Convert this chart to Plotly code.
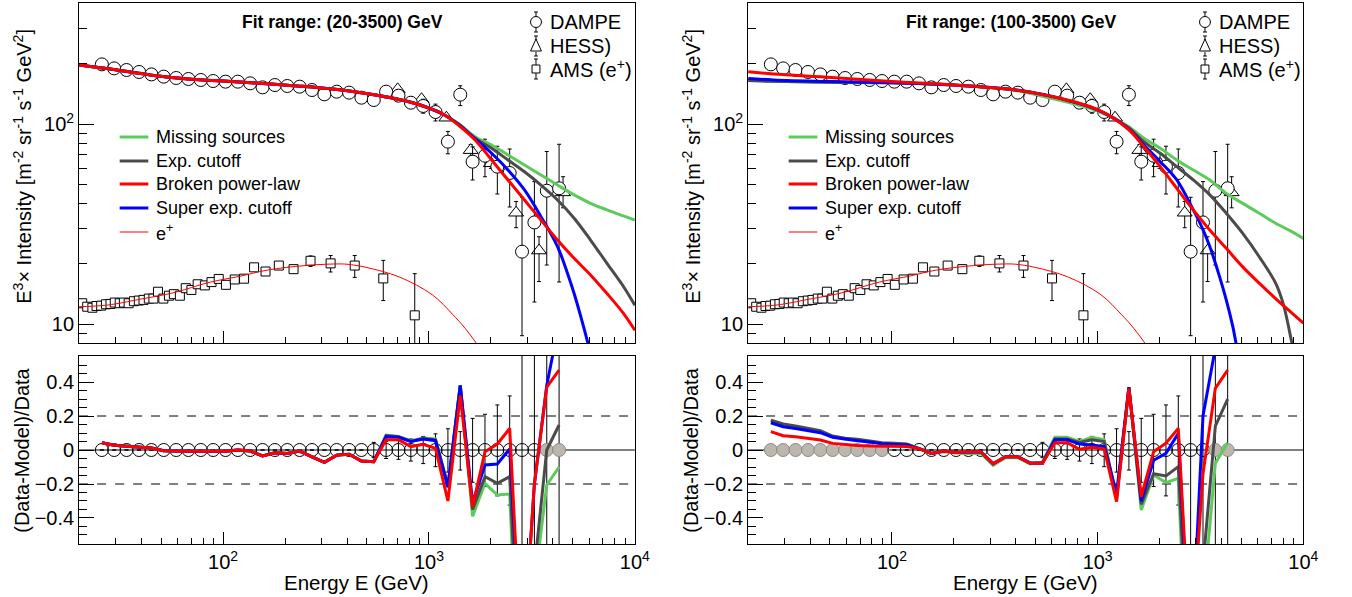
import plotly.graph_objects as go

W, H = 1352, 597

# ---------------- data ----------------
dampe_E = [25.8, 29.6, 34.0, 39.1, 44.9, 51.5, 59.2, 67.9, 78.0, 89.5, 102.8, 118.0, 135.5,
           155.6, 178.6, 205.1, 235.5, 270.4, 310.5, 356.5, 409.3, 469.9, 539.5, 619.4, 711.2,
           816.6, 937.6, 1076, 1236, 1419, 1629, 1871, 2148, 2466, 2831, 3251, 3733, 4285]
dampe_flux = [198.7, 189.7, 186.2, 182.0, 177.0, 172.5, 169.8, 167.9, 166.0, 164.0, 162.8, 162.8,
              159.7, 152.5, 156.6, 154.9, 153.7, 147.9, 140.7, 145.1, 143.5, 135.4, 131.8, 145.1,
              138.6, 127.8, 123.1, 114.8, 81.6, 140.2, 64.8, 69.4, 61.2, 56.9, 23.0, 32.2, 46.4, 47.7]
dampe_rel_up = [0.01] * 17 + [0.015, 0.02, 0.025, 0.03, 0.035, 0.045, 0.05, 0.055, 0.065, 0.08,
                              0.095, 0.125, 0.108, 0.186, 0.21, 0.265, 0.318, 0.87, 0.6, 0.57, 0.66]
dampe_rel_dn = [0.01] * 17 + [0.015, 0.02, 0.025, 0.03, 0.035, 0.045, 0.05, 0.055, 0.065, 0.08,
                              0.098, 0.13, 0.118, 0.19, 0.215, 0.27, 0.324, 0.62, 0.6, 0.575, 0.66]

hess_E = [705, 920, 1215, 1595, 2000, 2650, 3425, 4480]
hess_flux = [149, 133, 107.5, 74, 63.6, 36, 23.3, 45.5]
hess_err_up = [3, 3, 3, 4.9, 3.7, 5.0, 4.0, 9.0]
hess_err_dn = [3, 3, 3, 4.9, 3.6, 5.7, 7.0, 7.4]

ams_E = [20.7, 21.9, 23.2, 24.3, 25.6, 27.0, 28.4, 29.8, 31.5, 33.0, 34.8, 36.9, 39.0, 41.1, 43.6,
         45.9, 48.3, 51.3, 54.6, 57.7, 61.7, 65.9, 70.2, 75.3, 81.6, 87.9, 95.3, 103.3, 114, 126.5,
         141.5, 160.8, 186.6, 220, 266, 333, 436, 600, 853]
ams_flux = [12.7, 12.2, 12.06, 12.3, 12.35, 12.55, 12.6, 12.8, 12.7, 12.8, 12.7, 13.0, 13.1, 13.2,
            13.4, 13.4, 14.5, 13.4, 13.85, 14.1, 13.85, 15.1, 14.8, 15.8, 15.6, 16.2, 16.8, 15.7,
            16.7, 16.85, 19.2, 18.3, 19.6, 18.8, 20.7, 20.1, 19.6, 16.9, 11.05]
ams_err_up = [0.2] * 20 + [0.3] * 7 + [0.4] * 3 + [0.5, 0.6, 0.6, 0.9, 1.2, 1.9, 2.4, 3.9, 6.8]
ams_err_dn = [0.2] * 20 + [0.3] * 7 + [0.4] * 3 + [0.5, 0.6, 0.6, 0.8, 1.3, 1.9, 2.5, 3.8, 6.0]

# model curves, left panel (fit 20-3500 GeV)
L_curve_E = [20, 30, 45, 70, 100, 150, 230, 350, 550, 800, 960, 1160, 1390, 1675, 2015, 2420,
             2910, 3500, 4210, 5070, 6090, 7320, 8800, 10000]
L_missing = [197, 186.5, 175.5, 167.5, 164, 160, 155, 149, 139.6, 129.3, 122, 112.5, 100.5, 86.4,
             78.5, 70.0, 62.4, 55.6, 49.5, 44.2, 40.1, 37.2, 34.7, 33.1]
L_expcut = [197, 186.5, 175.5, 167.5, 164, 160, 155, 149, 139.6, 129.3, 122, 112.5, 100, 84.8,
            75.6, 66.1, 57.7, 49.5, 41.7, 33.8, 26.3, 20.1, 15.4, 12.4]
L_broken = [197, 186.5, 175.5, 167.5, 164, 160, 155, 149, 139.6, 129.3, 122, 112.5, 98.9, 83.2,
            66.1, 52.5, 41.7, 33.1, 26.3, 21.3, 17.6, 14.2, 11.3, 9.3]
L_super_E = [20, 30, 45, 70, 100, 150, 230, 350, 550, 800, 960, 1160, 1390, 1675, 2015, 2420,
             2910, 3500, 4210, 4710, 5070, 5460, 5880, 6300]
L_super = [197, 186.5, 175.5, 167.5, 164, 160, 155, 149, 139.6, 129.3, 122, 112.5, 99.5, 84.5,
           71.4, 58.9, 46.8, 34.4, 24.4, 17.9, 14.2, 10.9, 8.2, 6.0]

# model curves, right panel (fit 100-3500 GeV)
R_curve_E = [20, 26.6, 50.7, 100, 200, 400, 600, 1000, 1393, 1678, 2015, 2425, 2917, 3508, 4218,
             5073, 6100, 7330, 8830, 10000]
R_missing = [165, 163.4, 161.6, 161, 156.5, 147, 134, 116, 98, 84.8, 75.6, 66.1, 58.9, 52.5, 45,
             40.1, 35.8, 31.9, 28.9, 26.8]
R_broken = [182.7, 178, 171, 163, 156.7, 148, 137.5, 118, 95.2, 77, 61.2, 47.7, 37.2, 29.5, 23.9,
            19.3, 16.0, 13.4, 11.3, 10.1]
R_exp_E = [20, 26.6, 50.7, 100, 200, 400, 600, 1000, 1393, 1678, 2015, 2425, 2917, 3508, 4218,
           5073, 6100, 7330, 8000, 8800, 9300]
R_expcut = [165, 163.4, 161.6, 161, 156.7, 148, 137, 117.5, 97, 81.5, 71.4, 61.2, 52.5, 44.2,
            35.8, 28.4, 21.7, 16, 12.5, 8.0, 6.0]
R_super_E = [20, 26.6, 50.7, 100, 200, 400, 600, 1000, 1393, 1678, 2015, 2425, 2917, 3258, 3508,
             3917, 4218, 4540, 4710, 5000]
R_super = [169, 166, 163, 161, 156.7, 148, 137.5, 117.5, 95.5, 78.5, 64.8, 52.5, 37.2, 29.5, 24.4,
           17.2, 13.2, 9.7, 8.0, 6.0]

# positron model
ep_E = [20, 25.6, 30, 39.5, 50, 60, 82.8, 100, 120, 164, 250, 343, 400, 495, 716, 1038, 1300,
        1500, 1700, 1850]
ep_val = [12.2, 12.35, 12.6, 13.3, 13.9, 14.5, 16.0, 16.7, 17.3, 18.6, 19.6, 19.95, 19.9, 19.2,
          17.2, 14.0, 11.2, 9.5, 8.0, 7.0]

# residuals (Data-Model)/Data at DAMPE energies
common_res = [0.043, 0.028, 0.022, 0.018, 0.012, -0.004, -0.008, -0.008, -0.008, -0.008, -0.008,
              0.0, -0.006, -0.035, -0.016, -0.02, -0.006, -0.04, -0.073, -0.03, -0.025, -0.065,
              -0.069]
L_res_broken = common_res + [0.06, 0.06, 0.02, 0.033, 0.01, -0.30, 0.32, -0.333, -0.01, 0.035,
                             0.127, -1.3, -0.2, 0.37, 0.47]
L_res_super = common_res + [0.078, 0.075, 0.05, 0.065, 0.055, -0.22, 0.38, -0.31, -0.088, -0.082,
                            0.006, -1.3, -0.2, 0.38, 0.75]
L_res_expcut = common_res + [0.085, 0.078, 0.05, 0.067, 0.06, -0.21, 0.38, -0.35, -0.157, -0.196,
                             -0.157, -1.6, -0.7, 0.0, 0.147]
L_res_missing = common_res + [0.088, 0.08, 0.055, 0.07, 0.065, -0.21, 0.38, -0.39, -0.196, -0.265,
                              -0.259, -1.9, -0.8, -0.206, -0.1]

R_res_expcut = [0.176, 0.153, 0.141, 0.127, 0.114, 0.082, 0.069, 0.063, 0.053, 0.043, 0.039, 0.035,
                0.01, -0.02, -0.006, -0.014, -0.012, -0.012, -0.082, -0.04, -0.04, -0.078, -0.078,
                0.065, 0.065, 0.045, 0.06, 0.05, -0.28, 0.37, -0.32, -0.14, -0.153, -0.098, -1.5,
                -0.7, 0.14, 0.30]
R_res_missing = [0.171, 0.148, 0.136, 0.122, 0.109, 0.078, 0.065, 0.059, 0.05, 0.04, 0.036, 0.032,
                 0.008, -0.022, -0.01, -0.018, -0.02, -0.02, -0.09, -0.045, -0.045, -0.082, -0.07,
                 0.075, 0.075, 0.05, 0.075, 0.06, -0.29, 0.37, -0.353, -0.147, -0.192, -0.167,
                 -1.8, -0.9, -0.078, 0.043]
R_res_super = [0.16, 0.137, 0.127, 0.114, 0.102, 0.075, 0.063, 0.055, 0.047, 0.037, 0.033, 0.03,
               0.008, -0.02, -0.006, -0.014, -0.012, -0.01, -0.08, -0.04, -0.04, -0.076, -0.076,
               0.06, 0.06, 0.035, 0.03, 0.02, -0.255, 0.37, -0.3, -0.06, -0.02, 0.098, -1.3, 0.2,
               0.6, 1.0]
R_res_broken = [0.108, 0.084, 0.078, 0.069, 0.059, 0.039, 0.031, 0.027, 0.024, 0.022, 0.02, 0.02,
                0.008, -0.02, -0.006, -0.014, -0.01, -0.01, -0.08, -0.04, -0.04, -0.078, -0.078,
                0.043, 0.043, 0.004, 0.016, 0.006, -0.304, 0.363, -0.275, -0.01, 0.04, 0.127,
                -1.2, -0.14, 0.363, 0.47]

fit_ranges = [(20, 3500), (100, 3500)]
fit_labels = ["Fit range: (20-3500) GeV", "Fit range: (100-3500) GeV"]
x_ticks = [100, 1000, 10000]
x_ticktext = ["10<sup>2</sup>", "10<sup>3</sup>", "10<sup>4</sup>"]
y_ticks = [10, 100]
y_ticktext = ["10", "10<sup>2</sup>"]

# ---------------- style ----------------
FONT = "Liberation Sans, Arial, Helvetica, sans-serif"
GREEN = "#5ccb5c"
GRAY = "#4b4b4b"
RED = "#ff0000"
BLUE = "#0000ff"
FILLGRAY = "#bdb6ac"
MIN_VISIBLE_REL = 0.035   # error bars hidden inside the residual markers


def px(x):
    return x / W


def py(y):
    return 1 - y / H


TOP_DOM = [py(343), py(3)]
BOT_DOM = [py(544), py(356)]
PANEL_LEFT = [80, 756.5]
PANEL_RIGHT = [642, 1318]

fig = go.Figure()

minor_x = [v * m for m in (10, 100, 1000) for v in range(2, 10)]
minor_y = [9] + [v * 10 for v in range(2, 10)] + [200, 300]

panels = [
    dict(xt="x", yt="y", xb="x2", yb="y2",
         curves=[(L_curve_E, L_missing, GREEN), (L_curve_E, L_expcut, GRAY),
                 (L_super_E, L_super, BLUE), (L_curve_E, L_broken, RED)],
         res=[(L_res_missing, GREEN), (L_res_expcut, GRAY), (L_res_super, BLUE),
              (L_res_broken, RED)]),
    dict(xt="x3", yt="y3", xb="x4", yb="y4",
         curves=[(R_curve_E, R_missing, GREEN), (R_exp_E, R_expcut, GRAY),
                 (R_super_E, R_super, BLUE), (R_curve_E, R_broken, RED)],
         res=[(R_res_missing, GREEN), (R_res_expcut, GRAY), (R_res_super, BLUE),
              (R_res_broken, RED)]),
]

for k, p in enumerate(panels):
    # ---- data (white-filled markers hide the error bar inside the marker)
    fig.add_trace(go.Scatter(
        x=ams_E, y=ams_flux, mode="markers", xaxis=p["xt"], yaxis=p["yt"], showlegend=False,
        marker=dict(symbol="square", size=9, color="white", line=dict(width=1, color="black")),
        error_y=dict(type="data", symmetric=False, array=ams_err_up, arrayminus=ams_err_dn,
                     color="black", thickness=1, width=2)))
    fig.add_trace(go.Scatter(
        x=hess_E, y=hess_flux, mode="markers", xaxis=p["xt"], yaxis=p["yt"], showlegend=False,
        marker=dict(symbol="triangle-up", size=13, color="white", line=dict(width=1, color="black")),
        error_y=dict(type="data", symmetric=False, array=hess_err_up, arrayminus=hess_err_dn,
                     color="black", thickness=1, width=2)))
    fig.add_trace(go.Scatter(
        x=dampe_E, y=dampe_flux, mode="markers", xaxis=p["xt"], yaxis=p["yt"], showlegend=False,
        marker=dict(symbol="circle", size=13, color="white", line=dict(width=1, color="black")),
        error_y=dict(type="data", symmetric=False,
                     array=[f * r for f, r in zip(dampe_flux, dampe_rel_up)],
                     arrayminus=[f * r for f, r in zip(dampe_flux, dampe_rel_dn)],
                     color="black", thickness=1, width=2)))
    # ---- top panel curves
    for xs, ys, col in p["curves"]:
        fig.add_trace(go.Scatter(x=xs, y=ys, mode="lines", line=dict(color=col, width=3, shape="spline"),
                                 xaxis=p["xt"], yaxis=p["yt"], showlegend=False, hoverinfo="skip"))
    fig.add_trace(go.Scatter(x=ep_E, y=ep_val, mode="lines", line=dict(color=RED, width=1, shape="spline"),
                             xaxis=p["xt"], yaxis=p["yt"], showlegend=False, hoverinfo="skip"))

    # ---- bottom panel
    lo, hi = fit_ranges[k]
    inside = [lo <= e <= hi for e in dampe_E]
    fig.add_trace(go.Scatter(
        x=dampe_E, y=[0.0] * len(dampe_E), mode="markers", xaxis=p["xb"], yaxis=p["yb"],
        showlegend=False,
        marker=dict(symbol="circle", size=13,
                    color=["rgba(0,0,0,0)" if i else FILLGRAY for i in inside],
                    line=dict(width=1, color=["black" if i else "#8a8a8a" for i in inside])),
        error_y=dict(type="data", symmetric=False,
                     array=[r if r > MIN_VISIBLE_REL else 0 for r in dampe_rel_up],
                     arrayminus=[r if r > MIN_VISIBLE_REL else 0 for r in dampe_rel_dn],
                     color="black", thickness=1, width=2)))
    for rs, col in p["res"]:
        fig.add_trace(go.Scatter(x=dampe_E, y=rs, mode="lines", line=dict(color=col, width=3),
                                 xaxis=p["xb"], yaxis=p["yb"], showlegend=False, hoverinfo="skip"))

    # reference lines
    xdom = p["xb"] + " domain"
    for yv, dash in [(0.2, "dash"), (-0.2, "dash"), (0.0, "solid")]:
        fig.add_shape(type="line", xref=xdom, yref=p["yb"], x0=0, x1=1, y0=yv, y1=yv,
                      line=dict(color="black", width=1, dash=dash), layer="below")

    L = PANEL_LEFT[k]
    R = PANEL_RIGHT[k]
    # fit range label
    fig.add_annotation(x=px(L + 266), y=py(22), xref="paper", yref="paper", showarrow=False,
                       text="<b>" + fit_labels[k] + "</b>", font=dict(family=FONT, size=17.5, color="black"),
                       xanchor="center", yanchor="middle")
    # marker legend
    mx = L + 462
    for (yy, name, kind) in [(22, "DAMPE", "c"), (46, "HESS)", "t"), (69, "AMS (e<sup>+</sup>)", "s")]:
        if kind == "c":
            fig.add_shape(type="circle", xref="paper", yref="paper", x0=px(mx - 5.5), x1=px(mx + 5.5),
                          y0=py(yy + 5.5), y1=py(yy - 5.5), line=dict(color="black", width=1))
            h = 5.5
        elif kind == "t":
            path = "M {:.5f},{:.5f} L {:.5f},{:.5f} L {:.5f},{:.5f} Z".format(
                px(mx), py(yy - 7), px(mx - 5.5), py(yy + 5), px(mx + 5.5), py(yy + 5))
            fig.add_shape(type="path", path=path, xref="paper", yref="paper",
                          line=dict(color="black", width=1))
            h = 6
        else:
            fig.add_shape(type="rect", xref="paper", yref="paper", x0=px(mx - 4), x1=px(mx + 4),
                          y0=py(yy + 4), y1=py(yy - 4), line=dict(color="black", width=1))
            h = 4
        for s in (-1, 1):
            fig.add_shape(type="line", xref="paper", yref="paper", x0=px(mx), x1=px(mx),
                          y0=py(yy + s * h), y1=py(yy + s * 10), line=dict(color="black", width=1))
            fig.add_shape(type="line", xref="paper", yref="paper", x0=px(mx - 2), x1=px(mx + 2),
                          y0=py(yy + s * 10), y1=py(yy + s * 10), line=dict(color="black", width=1))
        fig.add_annotation(x=px(mx + 12), y=py(yy), xref="paper", yref="paper", showarrow=False,
                           text=name, font=dict(family=FONT, size=20, color="black"),
                           xanchor="left", yanchor="middle")
    # line legend
    for (yy, name, col, wdt) in [(137, "Missing sources", GREEN, 3), (161, "Exp. cutoff", GRAY, 3),
                                 (184, "Broken power-law", RED, 3), (208, "Super exp. cutoff", BLUE, 3),
                                 (232, "e<sup>+</sup>", RED, 1)]:
        fig.add_shape(type="line", xref="paper", yref="paper", x0=px(L + 41), x1=px(L + 70),
                      y0=py(yy), y1=py(yy), line=dict(color=col, width=wdt))
        fig.add_annotation(x=px(L + 76), y=py(yy), xref="paper", yref="paper", showarrow=False,
                           text=name, font=dict(family=FONT, size=18, color="black"),
                           xanchor="left", yanchor="middle")
    # axis titles
    fig.add_annotation(x=px(L - 58), y=py(166), xref="paper", yref="paper", showarrow=False,
                       text="E<sup>3</sup>× Intensity [m<sup>-2</sup> sr<sup>-1</sup> s<sup>-1</sup> GeV<sup>2</sup>]",
                       textangle=-90, font=dict(family=FONT, size=20, color="black"),
                       xanchor="center", yanchor="middle")
    fig.add_annotation(x=px(L - 58), y=py(450), xref="paper", yref="paper", showarrow=False,
                       text="(Data-Model)/Data", textangle=-90,
                       font=dict(family=FONT, size=20, color="black"),
                       xanchor="center", yanchor="middle")
    fig.add_annotation(x=px((L + R) / 2), y=py(582), xref="paper", yref="paper", showarrow=False,
                       text="Energy E (GeV)", font=dict(family=FONT, size=20.5, color="black"),
                       xanchor="center", yanchor="middle")

    xdomain = [px(L), px(R)]
    common_axis = dict(showline=True, mirror=True, linecolor="black", linewidth=1, showgrid=False,
                       zeroline=False, ticks="inside", tickcolor="black",
                       tickfont=dict(family=FONT, size=20, color="black"))
    xt_key = "xaxis" if p["xt"] == "x" else "xaxis" + p["xt"][1:]
    yt_key = "yaxis" if p["yt"] == "y" else "yaxis" + p["yt"][1:]
    xb_key = "xaxis" + p["xb"][1:]
    yb_key = "yaxis" + p["yb"][1:]
    fig.update_layout(**{
        xt_key: dict(common_axis, type="log", range=[1.30103, 4], domain=xdomain, anchor=p["yt"],
                     tickmode="array", tickvals=x_ticks, showticklabels=False, ticklen=12,
                     minor=dict(tickmode="array", tickvals=minor_x, ticks="inside", ticklen=6,
                                tickcolor="black")),
        yt_key: dict(common_axis, type="log", range=[0.905, 2.605], domain=TOP_DOM, anchor=p["xt"],
                     tickmode="array", tickvals=y_ticks, ticktext=y_ticktext, ticklen=15,
                     minor=dict(tickmode="array", tickvals=minor_y, ticks="inside", ticklen=8,
                                tickcolor="black")),
        xb_key: dict(common_axis, type="log", range=[1.30103, 4], domain=xdomain, anchor=p["yb"],
                     tickmode="array", tickvals=x_ticks, ticktext=x_ticktext, ticklen=12,
                     minor=dict(tickmode="array", tickvals=minor_x, ticks="inside", ticklen=6,
                                tickcolor="black")),
        yb_key: dict(common_axis, range=[-0.553, 0.553], domain=BOT_DOM, anchor=p["xb"],
                     tickmode="linear", tick0=0, dtick=0.2, ticklen=15,
                     minor=dict(tick0=0, dtick=0.05, ticks="inside", ticklen=8, tickcolor="black")),
    })

fig.update_layout(width=W, height=H, margin=dict(l=0, r=0, t=0, b=0), paper_bgcolor="white",
                  plot_bgcolor="white", showlegend=False, font=dict(family=FONT, color="black"))

fig.write_html("out.html", config={"displayModeBar": False},
               post_script="document.body.style.margin='0';document.body.style.overflow='hidden';")
